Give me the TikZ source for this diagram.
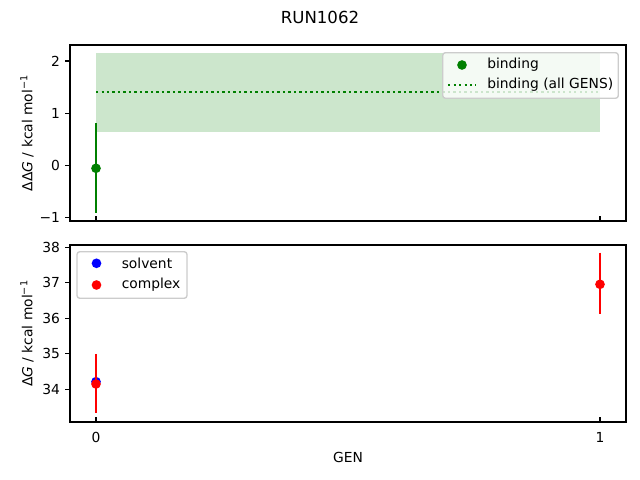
\documentclass[tikz,border=0pt]{standalone}
\usepackage{fontspec}
\setmainfont{DejaVu Sans}
\usetikzlibrary{positioning}

\definecolor{mplgreen}{RGB}{0,128,0}
\definecolor{mplblue}{RGB}{0,0,255}
\definecolor{mplred}{RGB}{255,0,0}
\definecolor{bandgreen}{RGB}{204,230,204}

\begin{document}
\begin{tikzpicture}[x=0.0254cm, y=-0.0254cm]
		\tikzstyle{Frame}	= [draw, black, line width=0.8pt]
		\tikzstyle{Tick}	= [black, line width=0.8pt]
		\tikzstyle{TickLabel}	= [inner sep=0pt, font=\fontsize{10}{12}\selectfont]
		\tikzstyle{ErrBar}	= [line width=1.5pt]
		\tikzstyle{Dot}		= [radius=3.5pt]
		\tikzstyle{Dotted}	= [line width=1.5pt, dash pattern=on 1.5pt off 2.475pt]
		\tikzstyle{LegendBox}	= [draw=black!20, fill=white, fill opacity=0.8, line width=1pt, rounded corners=2pt]

		\useasboundingbox (0,0) rectangle (640,480);

		% top panel: binding
		\fill [bandgreen] (96,53.3) rectangle (600,131.7);
		\draw [mplgreen][Dotted] (96,91.7) -- (600,91.7);
		\draw [mplgreen][ErrBar] (96,123.3) -- (96,213.3);
		\fill [mplgreen] (96,168.3) circle [Dot];
		\draw [Frame] (70,45) rectangle (626,221);

		\draw [Tick] (70,61.0) -- ++(-3.5pt,0);
		\draw [Tick] (70,113.2) -- ++(-3.5pt,0);
		\draw [Tick] (70,165.3) -- ++(-3.5pt,0);
		\draw [Tick] (70,217.5) -- ++(-3.5pt,0);
		\draw [Tick] (96,221) -- ++(0,3.5pt);
		\draw [Tick] (600,221) -- ++(0,3.5pt);
		\node (t2) at (60.3,61.0) [TickLabel, anchor=east] {2};
		\node (t1) at (60.3,113.2) [TickLabel, anchor=east] {1};
		\node (t0) at (60.3,165.3) [TickLabel, anchor=east] {0};
		\node (tm1) at (60.3,217.5) [TickLabel, anchor=east] {−1};
		\node (ylabtop) at (27,133) [TickLabel, rotate=90] {ΔΔ\textit{G} / kcal mol\textsuperscript{−1}};

		\draw [LegendBox] (442.7,52.7) rectangle (618.3,98.3);
		\fill [mplgreen] (462,65) circle [Dot];
		\draw [mplgreen][Dotted] (448,85) -- (476,85);
		\node (lbind) at (487,65) [TickLabel, anchor=west] {binding};
		\node (lall) at (487,85) [TickLabel, anchor=west] {binding (all GENS)};

		% bottom panel: solvent and complex
		\fill [mplblue] (96,381.7) circle [Dot];
		\draw [mplred][ErrBar] (96,354) -- (96,413.3);
		\fill [mplred] (96,384) circle [Dot];
		\draw [mplred][ErrBar] (600,252.7) -- (600,314.3);
		\fill [mplred] (600,284.3) circle [Dot];
		\draw [Frame] (70,245) rectangle (626,422);

		\draw [Tick] (70,247.3) -- ++(-3.5pt,0);
		\draw [Tick] (70,282.8) -- ++(-3.5pt,0);
		\draw [Tick] (70,318.3) -- ++(-3.5pt,0);
		\draw [Tick] (70,353.8) -- ++(-3.5pt,0);
		\draw [Tick] (70,389.3) -- ++(-3.5pt,0);
		\draw [Tick] (96,422) -- ++(0,3.5pt);
		\draw [Tick] (600,422) -- ++(0,3.5pt);
		\node (s38) at (60.3,247.3) [TickLabel, anchor=east] {38};
		\node (s37) at (60.3,282.8) [TickLabel, anchor=east] {37};
		\node (s36) at (60.3,318.3) [TickLabel, anchor=east] {36};
		\node (s35) at (60.3,353.8) [TickLabel, anchor=east] {35};
		\node (s34) at (60.3,389.3) [TickLabel, anchor=east] {34};
		\node (g0) at (96,431.7) [TickLabel, anchor=north] {0};
		\node (g1) at (600,431.7) [TickLabel, anchor=north] {1};
		\node (xlab) at (348,457) [TickLabel] {GEN};
		\node (ylabbot) at (27,333.5) [TickLabel, rotate=90] {Δ\textit{G} / kcal mol\textsuperscript{−1}};

		\draw [LegendBox] (77,251.7) rectangle (187,298.3);
		\fill [mplblue] (96.5,263.3) circle [Dot];
		\fill [mplred] (96.5,285) circle [Dot];
		\node (lsolv) at (121.5,263.3) [TickLabel, anchor=west] {solvent};
		\node (lcplx) at (121.5,285) [TickLabel, anchor=west] {complex};

		\node (title) at (320,17) [inner sep=0pt, font=\fontsize{12}{14}\selectfont] {RUN1062};
	\end{tikzpicture}
\end{document}
